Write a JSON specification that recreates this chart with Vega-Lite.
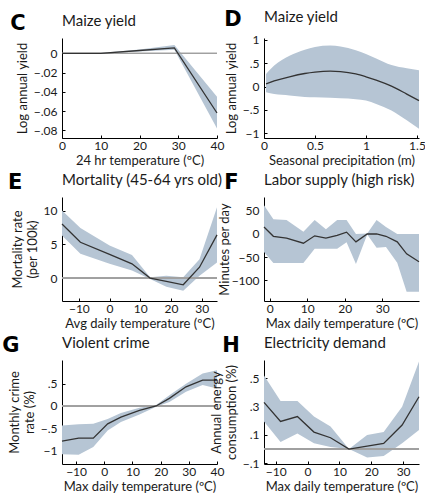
{
  "$schema": "https://vega.github.io/schema/vega-lite/v6.json",
  "padding": {"left": 2, "top": 8, "right": 2, "bottom": 0},
  "background": "white",
  "columns": 2,
  "spacing": {"row": 5, "column": -14},
  "config": {
    "font": "Lato",
    "view": {"stroke": null},
    "axis": {"grid": false, "domainColor": "#000", "tickColor": "#000", "tickSize": -3, "labelFontSize": 12, "titleFontSize": 13, "titleFontWeight": "normal", "labelColor": "#1a1a1a", "titleColor": "#1a1a1a", "labelOverlap": false, "labelFlush": false},
    "axisX": {"titlePadding": 3, "labelPadding": 5},
    "axisY": {"titlePadding": 4, "labelPadding": 8},
    "title": {"fontSize": 15, "fontWeight": "normal", "color": "#1a1a1a", "anchor": "start"}
  },
  "concat": [
    {
      "title": {"text": "C", "font": "DejaVu Sans", "fontSize": 21, "fontWeight": "bold", "color": "#000", "anchor": "start", "frame": "bounds", "offset": 0, "dy": 20, "dx": -6},
      "vconcat": [{
        "width": 155, "height": 100,
        "title": {"text": "Maize yield", "frame": "group", "offset": 9},
        "data": {"values": [
          {"x": 0, "y": 0, "lo": 0, "hi": 0},
          {"x": 10, "y": 0, "lo": -0.0004, "hi": 0.0004},
          {"x": 20, "y": 0.003, "lo": 0.002, "hi": 0.004},
          {"x": 29, "y": 0.0058, "lo": 0.0038, "hi": 0.0088},
          {"x": 40, "y": -0.062, "lo": -0.078, "hi": -0.045}
        ]},
        "layer": [
          {"mark": {"type": "area", "color": "#b6c5d4", "opacity": 1},
           "encoding": {
             "x": {"field": "x", "type": "quantitative", "scale": {"domain": [0, 40], "nice": false}, "axis": {"values": [0, 10, 20, 30, 40], "tickCount": 12, "labelOverlap": false, "title": "24 hr temperature (ºC)"}},
             "y": {"field": "lo", "type": "quantitative", "scale": {"domain": [-0.088, 0.016], "nice": false, "zero": false}, "axis": {"values": [0, -0.02, -0.04, -0.06, -0.08], "tickCount": 12, "labelOverlap": false, "format": ".2~f", "labelExpr": "replace(datum.label, '0.', '.')", "title": "Log annual yield"}},
             "y2": {"field": "hi"}}},
          {"mark": {"type": "rule", "color": "#a0a0a0", "strokeWidth": 1}, "encoding": {"y": {"datum": 0, "type": "quantitative"}}},
          {"mark": {"type": "line", "color": "#333", "strokeWidth": 1.3},
           "encoding": {"x": {"field": "x", "type": "quantitative"}, "y": {"field": "y", "type": "quantitative"}}}
        ]
      }]
    },
    {
      "title": {"text": "D", "font": "DejaVu Sans", "fontSize": 21, "fontWeight": "bold", "color": "#000", "anchor": "start", "frame": "bounds", "offset": 0, "dy": 20, "dx": -1},
      "vconcat": [{
        "width": 155, "height": 100,
        "title": {"text": "Maize yield", "frame": "group", "offset": 9},
        "data": {"values": [
          {"x": 0.02, "y": 0.06, "lo": -0.12, "hi": 0.27},
          {"x": 0.1, "y": 0.12, "lo": -0.16, "hi": 0.45},
          {"x": 0.25, "y": 0.21, "lo": -0.19, "hi": 0.66},
          {"x": 0.4, "y": 0.28, "lo": -0.22, "hi": 0.79},
          {"x": 0.5, "y": 0.31, "lo": -0.23, "hi": 0.85},
          {"x": 0.65, "y": 0.33, "lo": -0.24, "hi": 0.88},
          {"x": 0.75, "y": 0.32, "lo": -0.25, "hi": 0.86},
          {"x": 0.9, "y": 0.27, "lo": -0.27, "hi": 0.78},
          {"x": 1.0, "y": 0.21, "lo": -0.30, "hi": 0.70},
          {"x": 1.1, "y": 0.14, "lo": -0.37, "hi": 0.60},
          {"x": 1.25, "y": 0.01, "lo": -0.51, "hi": 0.46},
          {"x": 1.4, "y": -0.16, "lo": -0.72, "hi": 0.39},
          {"x": 1.52, "y": -0.30, "lo": -0.90, "hi": 0.35}
        ]},
        "layer": [
          {"mark": {"type": "area", "color": "#b6c5d4", "opacity": 1, "interpolate": "monotone"},
           "encoding": {
             "x": {"field": "x", "type": "quantitative", "scale": {"domain": [0, 1.52], "nice": false}, "axis": {"values": [0, 0.5, 1, 1.5], "tickCount": 12, "labelOverlap": false, "format": ".1~f", "title": "Seasonal precipitation (m)"}},
             "y": {"field": "lo", "type": "quantitative", "scale": {"domain": [-1.1, 1.04], "nice": false, "zero": false}, "axis": {"values": [-1, -0.5, 0, 0.5, 1], "tickCount": 12, "labelOverlap": false, "format": ".1~f", "labelExpr": "replace(datum.label, '0.', '.')", "title": "Log annual yield"}},
             "y2": {"field": "hi"}}},
          {"mark": {"type": "line", "color": "#333", "strokeWidth": 1.3, "interpolate": "monotone"},
           "encoding": {"x": {"field": "x", "type": "quantitative"}, "y": {"field": "y", "type": "quantitative"}}}
        ]
      }]
    },
    {
      "title": {"text": "E", "font": "DejaVu Sans", "fontSize": 21, "fontWeight": "bold", "color": "#000", "anchor": "start", "frame": "bounds", "offset": 0, "dy": 20, "dx": -3},
      "vconcat": [{
        "width": 155, "height": 104,
        "title": {"text": "Mortality (45-64 yrs old)", "frame": "group", "offset": 9},
        "data": {"values": [
          {"x": -15.5, "y": 8.0, "lo": 6.3, "hi": 10.0},
          {"x": -9.5, "y": 5.3, "lo": 3.6, "hi": 7.4},
          {"x": 0, "y": 3.5, "lo": 2.1, "hi": 4.8},
          {"x": 7.3, "y": 2.1, "lo": 1.1, "hi": 3.4},
          {"x": 13.2, "y": 0, "lo": -0.15, "hi": 0.1},
          {"x": 18.5, "y": -0.5, "lo": -1.3, "hi": 0.35},
          {"x": 24, "y": -1.0, "lo": -1.9, "hi": 0.1},
          {"x": 29.3, "y": 1.6, "lo": 0.35, "hi": 2.8},
          {"x": 35, "y": 6.4, "lo": 2.3, "hi": 10.5}
        ]},
        "layer": [
          {"mark": {"type": "area", "color": "#b6c5d4", "opacity": 1},
           "encoding": {
             "x": {"field": "x", "type": "quantitative", "scale": {"domain": [-15.5, 35], "nice": false}, "axis": {"values": [-10, 0, 10, 20, 30], "tickCount": 12, "labelOverlap": false, "title": "Avg daily temperature (ºC)"}},
             "y": {"field": "lo", "type": "quantitative", "scale": {"domain": [-3.4, 12], "nice": false, "zero": false}, "axis": {"values": [0, 5, 10], "tickCount": 12, "labelOverlap": false, "title": ["Mortality rate", "(per 100k)"]}},
             "y2": {"field": "hi"}}},
          {"mark": {"type": "rule", "color": "#a0a0a0", "strokeWidth": 1}, "encoding": {"y": {"datum": 0, "type": "quantitative"}}},
          {"mark": {"type": "line", "color": "#333", "strokeWidth": 1.3},
           "encoding": {"x": {"field": "x", "type": "quantitative"}, "y": {"field": "y", "type": "quantitative"}}}
        ]
      }]
    },
    {
      "title": {"text": "F", "font": "DejaVu Sans", "fontSize": 21, "fontWeight": "bold", "color": "#000", "anchor": "start", "frame": "bounds", "offset": 0, "dy": 20, "dx": 6},
      "vconcat": [{
        "width": 155, "height": 104,
        "title": {"text": "Labor supply (high risk)", "frame": "group", "offset": 9},
        "data": {"values": [
          {"x": -1.5, "y": 15, "lo": -39, "hi": 62},
          {"x": 1, "y": -5, "lo": -63, "hi": 32},
          {"x": 4.5, "y": -9, "lo": -63, "hi": 30},
          {"x": 9, "y": -20, "lo": -63, "hi": 5},
          {"x": 12, "y": -4, "lo": -32, "hi": 30},
          {"x": 15, "y": -9, "lo": -32, "hi": 10},
          {"x": 18, "y": -3, "lo": -32, "hi": 30},
          {"x": 20.5, "y": 4, "lo": -18, "hi": 30},
          {"x": 23, "y": -17, "lo": -65, "hi": 0},
          {"x": 26, "y": 0, "lo": -1, "hi": 1},
          {"x": 28.5, "y": 0, "lo": -30, "hi": 30},
          {"x": 31, "y": -5, "lo": -28, "hi": 15},
          {"x": 34, "y": -17, "lo": -62, "hi": 0},
          {"x": 36.5, "y": -43, "lo": -125, "hi": 0},
          {"x": 39.8, "y": -60, "lo": -125, "hi": 0}
        ]},
        "layer": [
          {"mark": {"type": "area", "color": "#b6c5d4", "opacity": 1},
           "encoding": {
             "x": {"field": "x", "type": "quantitative", "scale": {"domain": [-1.5, 39.8], "nice": false}, "axis": {"values": [0, 10, 20, 30], "tickCount": 12, "labelOverlap": false, "title": "Max daily temperature (ºC)"}},
             "y": {"field": "lo", "type": "quantitative", "scale": {"domain": [-145, 80], "nice": false, "zero": false}, "axis": {"values": [-100, -50, 0, 50], "tickCount": 12, "labelOverlap": false, "title": "Minutes per day", "titlePadding": 0}},
             "y2": {"field": "hi"}}},
          {"mark": {"type": "line", "color": "#333", "strokeWidth": 1.3},
           "encoding": {"x": {"field": "x", "type": "quantitative"}, "y": {"field": "y", "type": "quantitative"}}}
        ]
      }]
    },
    {
      "title": {"text": "G", "font": "DejaVu Sans", "fontSize": 21, "fontWeight": "bold", "color": "#000", "anchor": "start", "frame": "bounds", "offset": 0, "dy": 20, "dx": -6},
      "vconcat": [{
        "width": 155, "height": 104,
        "title": {"text": "Violent crime", "frame": "group", "offset": 9},
        "data": {"values": [
          {"x": -15, "y": -0.79, "lo": -1.08, "hi": -0.44},
          {"x": -9.1, "y": -0.72, "lo": -1.09, "hi": -0.41},
          {"x": -3.9, "y": -0.72, "lo": -0.92, "hi": -0.40},
          {"x": 1.2, "y": -0.40, "lo": -0.55, "hi": -0.29},
          {"x": 5.9, "y": -0.25, "lo": -0.36, "hi": -0.16},
          {"x": 12.5, "y": -0.10, "lo": -0.19, "hi": -0.04},
          {"x": 18.4, "y": 0.0, "lo": -0.02, "hi": 0.02},
          {"x": 23.1, "y": 0.17, "lo": 0.09, "hi": 0.24},
          {"x": 29, "y": 0.43, "lo": 0.32, "hi": 0.50},
          {"x": 34.9, "y": 0.58, "lo": 0.47, "hi": 0.73},
          {"x": 40, "y": 0.58, "lo": 0.39, "hi": 0.80}
        ]},
        "layer": [
          {"mark": {"type": "area", "color": "#b6c5d4", "opacity": 1},
           "encoding": {
             "x": {"field": "x", "type": "quantitative", "scale": {"domain": [-15, 40], "nice": false}, "axis": {"values": [-10, 0, 10, 20, 30, 40], "tickCount": 12, "labelOverlap": false, "title": "Max daily temperature (ºC)"}},
             "y": {"field": "lo", "type": "quantitative", "scale": {"domain": [-1.3, 1.03], "nice": false, "zero": false}, "axis": {"values": [-1, -0.5, 0, 0.5], "tickCount": 12, "labelOverlap": false, "format": ".1~f", "labelExpr": "replace(datum.label, '0.', '.')", "title": ["Monthly crime", "rate (%)"]}},
             "y2": {"field": "hi"}}},
          {"mark": {"type": "rule", "color": "#a0a0a0", "strokeWidth": 1}, "encoding": {"y": {"datum": 0, "type": "quantitative"}}},
          {"mark": {"type": "line", "color": "#333", "strokeWidth": 1.3},
           "encoding": {"x": {"field": "x", "type": "quantitative"}, "y": {"field": "y", "type": "quantitative"}}}
        ]
      }]
    },
    {
      "title": {"text": "H", "font": "DejaVu Sans", "fontSize": 21, "fontWeight": "bold", "color": "#000", "anchor": "start", "frame": "bounds", "offset": 0, "dy": 20, "dx": 12},
      "vconcat": [{
        "width": 155, "height": 104,
        "title": {"text": "Electricity demand", "frame": "group", "offset": 9},
        "data": {"values": [
          {"x": -13.7, "y": 0.33, "lo": 0.195, "hi": 0.52},
          {"x": -8.5, "y": 0.195, "lo": 0.05, "hi": 0.34},
          {"x": -3.2, "y": 0.23, "lo": 0.11, "hi": 0.34},
          {"x": 2.0, "y": 0.12, "lo": 0.04, "hi": 0.23},
          {"x": 7.2, "y": 0.08, "lo": 0.015, "hi": 0.16},
          {"x": 13, "y": 0.0, "lo": 0.0, "hi": 0.0},
          {"x": 18.7, "y": 0.02, "lo": -0.06, "hi": 0.10},
          {"x": 23.9, "y": 0.04, "lo": -0.05, "hi": 0.12},
          {"x": 29.7, "y": 0.17, "lo": 0.04, "hi": 0.30},
          {"x": 35, "y": 0.37, "lo": 0.135, "hi": 0.62}
        ]},
        "layer": [
          {"mark": {"type": "area", "color": "#b6c5d4", "opacity": 1},
           "encoding": {
             "x": {"field": "x", "type": "quantitative", "scale": {"domain": [-13.7, 35], "nice": false}, "axis": {"values": [-10, 0, 10, 20, 30], "tickCount": 12, "labelOverlap": false, "title": "Max daily temperature (ºC)"}},
             "y": {"field": "lo", "type": "quantitative", "scale": {"domain": [-0.106, 0.63], "nice": false, "zero": false}, "axis": {"values": [-0.1, 0.1, 0.3, 0.5], "tickCount": 12, "labelOverlap": false, "format": ".1~f", "labelExpr": "replace(datum.label, '0.', '.')", "title": ["Annual energy", "consumption (%)"]}},
             "y2": {"field": "hi"}}},
          {"mark": {"type": "rule", "color": "#a0a0a0", "strokeWidth": 1}, "encoding": {"y": {"datum": 0, "type": "quantitative"}}},
          {"mark": {"type": "line", "color": "#333", "strokeWidth": 1.3},
           "encoding": {"x": {"field": "x", "type": "quantitative"}, "y": {"field": "y", "type": "quantitative"}}}
        ]
      }]
    }
  ]
}
